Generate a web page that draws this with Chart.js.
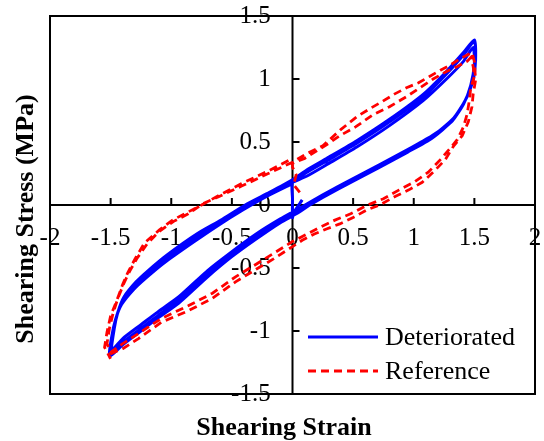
<!DOCTYPE html>
<html>
<head>
<meta charset="utf-8">
<script src="https://cdn.jsdelivr.net/npm/chart.js@4.4.1/dist/chart.umd.min.js"></script>
<style>
html, body { margin: 0; padding: 0; background: #fff; }
#wrap { width: 544px; height: 441px; }
</style>
</head>
<body>
<div id="wrap"><canvas id="hystChart" width="544" height="441"></canvas></div>
<script>
// Ejes
const xTicks = [-2, -1.5, -1, -0.5, 0, 0.5, 1, 1.5, 2];
const yTicks = [-1.5, -1, -0.5, 0, 0.5, 1, 1.5];

// Deteriorated: arranque y tres ciclos [deformación, tensión]
const blueStart = [[0.08, 0.04], [0.01, -0.06], [0.00, -0.10], [0.00, 0.05]];
const blueLoop1 = [
    [0.00, 0.18], [0.12, 0.26], [0.30, 0.36], [0.53, 0.49], [0.80, 0.66], [1.08, 0.86], [1.27, 1.04], [1.41, 1.19], [1.50, 1.30],
    [1.51, 1.15], [1.48, 0.97], [1.42, 0.82], [1.32, 0.67], [1.15, 0.53], [0.95, 0.42], [0.72, 0.30], [0.50, 0.19], [0.25, 0.06],
    [0.05, -0.05], [-0.10, -0.13], [-0.30, -0.25], [-0.50, -0.39], [-0.70, -0.55], [-0.94, -0.76], [-1.10, -0.87], [-1.25, -0.98],
    [-1.40, -1.09], [-1.50, -1.18],
    [-1.48, -1.02], [-1.45, -0.88], [-1.40, -0.76], [-1.30, -0.64], [-1.20, -0.55], [-1.05, -0.43], [-0.80, -0.26], [-0.60, -0.14],
    [-0.40, -0.02], [-0.20, 0.08], [0.00, 0.18]
];
const blueLoop2 = [
    [0.12, 0.23], [0.30, 0.33], [0.53, 0.46], [0.80, 0.63], [1.08, 0.83], [1.27, 1.00], [1.41, 1.14], [1.49, 1.25],
    [1.50, 1.12], [1.47, 0.95], [1.41, 0.80], [1.31, 0.66], [1.15, 0.55], [0.95, 0.44], [0.72, 0.32], [0.50, 0.21], [0.25, 0.08],
    [0.05, -0.03], [-0.10, -0.11], [-0.30, -0.23], [-0.50, -0.37], [-0.70, -0.52], [-0.94, -0.73], [-1.10, -0.84], [-1.25, -0.95],
    [-1.40, -1.06], [-1.49, -1.15],
    [-1.47, -0.98], [-1.44, -0.85], [-1.39, -0.73], [-1.29, -0.61], [-1.19, -0.52], [-1.04, -0.40], [-0.79, -0.23], [-0.59, -0.12],
    [-0.39, 0.00], [-0.19, 0.10], [0.00, 0.20]
];
const blueLoop3 = [
    [0.12, 0.28], [0.30, 0.38], [0.53, 0.51], [0.80, 0.68], [1.08, 0.88], [1.27, 1.06], [1.41, 1.21], [1.50, 1.31],
    [1.51, 1.17], [1.49, 0.99], [1.43, 0.84], [1.33, 0.69], [1.16, 0.55], [0.96, 0.43], [0.73, 0.31], [0.50, 0.20], [0.25, 0.07],
    [0.05, -0.06], [-0.10, -0.14], [-0.30, -0.27], [-0.50, -0.41], [-0.70, -0.57], [-0.94, -0.78], [-1.10, -0.89], [-1.25, -1.00],
    [-1.40, -1.11], [-1.51, -1.20],
    [-1.49, -1.04], [-1.46, -0.91], [-1.41, -0.79], [-1.31, -0.67], [-1.21, -0.58], [-1.06, -0.46], [-0.81, -0.29], [-0.61, -0.16],
    [-0.41, -0.04], [-0.21, 0.07], [0.00, 0.17]
];

// Reference: arranque y dos ciclos
const redStart = [[0.06, 0.10], [0.01, 0.16], [0.03, 0.24], [0.00, 0.30]];
const redLoop1 = [
    [0.00, 0.33], [0.10, 0.37], [0.20, 0.43], [0.30, 0.49], [0.39, 0.55], [0.52, 0.62], [0.67, 0.72], [0.80, 0.78], [0.94, 0.86],
    [1.05, 0.93], [1.16, 1.00], [1.27, 1.06], [1.36, 1.10], [1.44, 1.14], [1.47, 1.17],
    [1.49, 1.10], [1.50, 1.02], [1.47, 0.93], [1.46, 0.84], [1.44, 0.72], [1.41, 0.62], [1.36, 0.52], [1.30, 0.45], [1.22, 0.36],
    [1.12, 0.26], [1.00, 0.18], [0.88, 0.12], [0.75, 0.05], [0.62, 0.00], [0.48, -0.07], [0.35, -0.12], [0.22, -0.18], [0.10, -0.24],
    [0.00, -0.29], [-0.15, -0.38], [-0.30, -0.47], [-0.47, -0.57], [-0.66, -0.70], [-0.86, -0.80], [-1.08, -0.90], [-1.27, -1.02],
    [-1.40, -1.10], [-1.50, -1.17],
    [-1.53, -1.10], [-1.51, -0.98], [-1.48, -0.86], [-1.44, -0.74], [-1.39, -0.62], [-1.34, -0.52], [-1.28, -0.42], [-1.20, -0.31],
    [-1.10, -0.21], [-0.98, -0.13], [-0.86, -0.07], [-0.74, 0.01], [-0.60, 0.07], [-0.42, 0.15], [-0.20, 0.25], [0.00, 0.34]
];
const redLoop2 = [
    [0.12, 0.41], [0.25, 0.47], [0.40, 0.60], [0.53, 0.70], [0.63, 0.76], [0.72, 0.81], [0.84, 0.88], [0.94, 0.93], [1.04, 0.97],
    [1.13, 1.02], [1.22, 1.07], [1.30, 1.11], [1.38, 1.16], [1.44, 1.19], [1.48, 1.21],
    [1.50, 1.14], [1.51, 0.99], [1.49, 0.88], [1.48, 0.78], [1.45, 0.66], [1.40, 0.55], [1.33, 0.47], [1.26, 0.36], [1.17, 0.27],
    [1.07, 0.18], [0.96, 0.12], [0.85, 0.07], [0.72, 0.00], [0.61, -0.04], [0.50, -0.10], [0.39, -0.15], [0.28, -0.19], [0.18, -0.23],
    [0.08, -0.28], [0.00, -0.33], [-0.16, -0.43], [-0.30, -0.51], [-0.47, -0.61], [-0.66, -0.74], [-0.86, -0.84], [-1.08, -0.93],
    [-1.27, -1.06], [-1.40, -1.14], [-1.52, -1.19], [-1.50, -1.22],
    [-1.55, -1.13], [-1.53, -1.01], [-1.50, -0.88], [-1.45, -0.76], [-1.40, -0.63], [-1.36, -0.54], [-1.30, -0.43], [-1.22, -0.30],
    [-1.10, -0.20], [-0.99, -0.12], [-0.87, -0.06], [-0.75, 0.00], [-0.60, 0.08], [-0.42, 0.17], [-0.20, 0.27], [0.00, 0.37]
];

const FONT = "'Liberation Serif', 'Times New Roman', serif";
const toPts = arr => arr.map(p => ({ x: p[0], y: p[1] }));

// los ejes centrados no deben quitar espacio al área del gráfico
function noSpace(s) {
    if (s.isHorizontal()) { s.height = 0; } else { s.width = 0; }
    s.paddingTop = 0; s.paddingBottom = 0; s.paddingLeft = 0; s.paddingRight = 0;
}

// Marco, ejes centrados, marcas, títulos y leyenda
const framePlugin = {
    id: 'frame',
    beforeDatasetsDraw(chart) {
        const { ctx, chartArea: a, scales: { x, y } } = chart;
        const x0 = x.getPixelForValue(0);
        const y0 = y.getPixelForValue(0);
        ctx.save();
        ctx.strokeStyle = '#000';
        ctx.lineWidth = 2;
        ctx.strokeRect(a.left, a.top, a.right - a.left, a.bottom - a.top);
        ctx.beginPath();
        ctx.moveTo(a.left, y0); ctx.lineTo(a.right, y0);
        ctx.moveTo(x0, a.top); ctx.lineTo(x0, a.bottom);
        xTicks.forEach(v => {
            const p = x.getPixelForValue(v);
            ctx.moveTo(p, y0); ctx.lineTo(p, y0 - 7);
        });
        yTicks.forEach(v => {
            const p = y.getPixelForValue(v);
            ctx.moveTo(x0, p); ctx.lineTo(x0 + 7, p);
        });
        ctx.stroke();
        ctx.restore();
    },
    afterDraw(chart) {
        const ctx = chart.ctx;
        ctx.save();
        ctx.fillStyle = '#000';
        ctx.font = 'bold 26px ' + FONT;
        ctx.textAlign = 'center';
        ctx.textBaseline = 'alphabetic';
        ctx.fillText('Shearing Strain', 284, 435);
        ctx.translate(33, 219);
        ctx.rotate(-Math.PI / 2);
        ctx.fillText('Shearing Stress (MPa)', 0, 0);
        ctx.restore();

        // leyenda
        const rows = [337, 371];
        chart.data.datasets.forEach((ds, i) => {
            const yy = rows[i];
            ctx.save();
            ctx.strokeStyle = ds.borderColor;
            ctx.lineWidth = 3;
            ctx.setLineDash(ds.borderDash || []);
            ctx.beginPath();
            ctx.moveTo(308, yy);
            ctx.lineTo(378, yy);
            ctx.stroke();
            ctx.setLineDash([]);
            ctx.fillStyle = '#000';
            ctx.font = '26px ' + FONT;
            ctx.textAlign = 'left';
            ctx.textBaseline = 'alphabetic';
            ctx.fillText(ds.label, 385, yy + 8);
            ctx.restore();
        });
    }
};

const ctx = document.getElementById('hystChart');
const hystChart = new Chart(ctx.getContext('2d'), {
    type: 'scatter',
    data: {
        datasets: [{
            label: 'Deteriorated',
            data: toPts(blueStart.concat(blueLoop1, blueLoop2, blueLoop3)),
            borderColor: '#0000ff',
            backgroundColor: '#0000ff',
            borderWidth: 3,
            showLine: true,
            pointRadius: 0,
            tension: 0.2,
            order: 1
        }, {
            label: 'Reference',
            data: toPts(redStart.concat(redLoop1, redLoop2)),
            borderColor: '#ff0000',
            backgroundColor: '#ff0000',
            borderWidth: 2.8,
            borderDash: [8, 5],
            showLine: true,
            pointRadius: 0,
            tension: 0,
            order: 0
        }]
    },
    options: {
        responsive: false,
        animation: false,
        layout: { padding: { left: 50, right: 9, top: 16, bottom: 47 } },
        plugins: {
            legend: { display: false },
            tooltip: { enabled: false }
        },
        scales: {
            x: {
                type: 'linear',
                min: -2,
                max: 2,
                position: { y: 0 },
                afterBuildTicks: s => { s.ticks = xTicks.map(v => ({ value: v })); },
                afterFit: noSpace,
                grid: { display: false, drawTicks: false },
                border: { display: false },
                ticks: {
                    autoSkip: false,
                    maxRotation: 0,
                    padding: 18,
                    color: '#000',
                    font: { family: FONT, size: 25 },
                    callback: v => String(v)
                }
            },
            y: {
                type: 'linear',
                min: -1.5,
                max: 1.5,
                // etiquetas a la izquierda del eje vertical (que se dibuja en x = 0)
                position: { x: -0.18 },
                afterBuildTicks: s => { s.ticks = yTicks.map(v => ({ value: v })); },
                afterFit: noSpace,
                grid: { display: false, drawTicks: false },
                border: { display: false },
                ticks: {
                    autoSkip: false,
                    color: '#000',
                    font: { family: FONT, size: 25 },
                    callback: v => String(v)
                }
            }
        }
    },
    plugins: [framePlugin]
});
</script>
</body>
</html>
